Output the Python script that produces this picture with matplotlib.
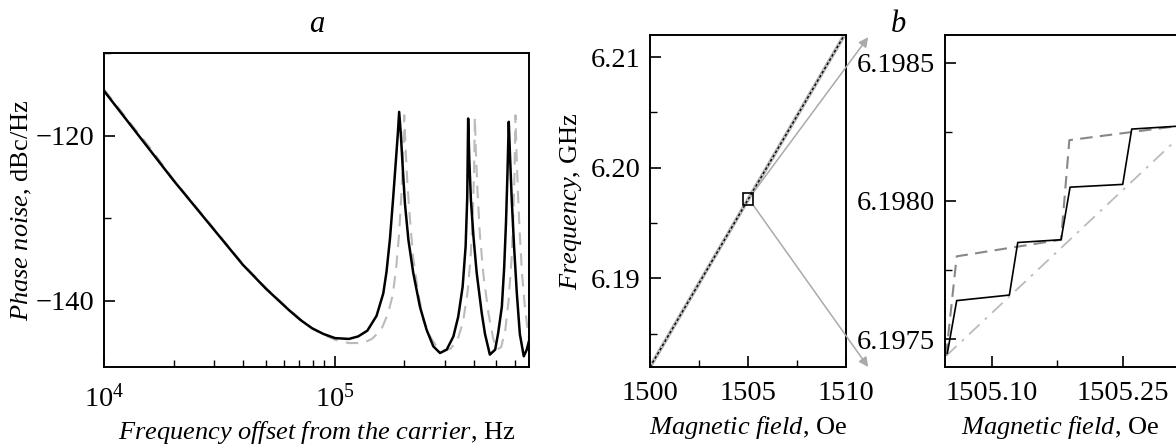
import matplotlib
matplotlib.use("Agg")
import matplotlib.pyplot as plt
from matplotlib.ticker import MultipleLocator, FormatStrFormatter, LogLocator, LogFormatterMathtext
from matplotlib.patches import Rectangle

plt.rcParams['font.family'] = ['Liberation Serif', 'DejaVu Serif']
plt.rcParams['mathtext.fontset'] = 'custom'
plt.rcParams['mathtext.rm'] = 'Liberation Serif'
plt.rcParams['mathtext.it'] = 'Liberation Serif:italic'
plt.rcParams['font.size'] = 19

# panel a: phase noise; frequency given as log10(offset, Hz)
lgf_solid = [4.0, 4.1, 4.2, 4.3, 4.4, 4.5, 4.6, 4.7, 4.8, 4.85,
             4.9, 4.95, 5.0, 5.06, 5.10, 5.14, 5.18, 5.209, 5.223, 5.238,
             5.252, 5.264, 5.272, 5.278, 5.285, 5.294, 5.303, 5.318, 5.339, 5.368,
             5.397, 5.426, 5.455, 5.484, 5.513, 5.534, 5.553, 5.566, 5.573, 5.577,
             5.582, 5.589, 5.600, 5.614, 5.636, 5.650, 5.671, 5.694, 5.707, 5.723,
             5.733, 5.741, 5.747, 5.753, 5.758, 5.766, 5.776, 5.788, 5.801, 5.818,
             5.831, 5.842]
pa_solid = [-114.6, -118.2, -121.8, -125.4, -128.8, -132.2, -135.6, -138.5, -141.1, -142.3,
            -143.3, -144.0, -144.5, -144.6, -144.3, -143.6, -141.8, -139.1, -136.5, -132.5,
            -127.5, -122.9, -119.8, -117.1, -119.7, -124.1, -128.2, -132.6, -136.6, -140.7,
            -143.5, -145.5, -146.3, -145.9, -144.3, -141.9, -138.3, -133.4, -127.5, -117.9,
            -122.9, -127.8, -132.2, -136.6, -141.5, -144.0, -146.5, -145.9, -143.9, -140.7,
            -136.0, -130.5, -124.9, -118.3, -122.1, -127.8, -133.4, -139.1, -144.0, -146.7,
            -145.9, -144.7]

lgf_dash = [4.0, 4.1, 4.2, 4.3, 4.4, 4.5, 4.6, 4.7, 4.8, 4.85,
            4.9, 4.95, 5.0, 5.06, 5.12, 5.16, 5.20, 5.23, 5.25, 5.265,
            5.278, 5.288, 5.295, 5.300, 5.305, 5.313, 5.325, 5.339, 5.361, 5.383,
            5.412, 5.44, 5.47, 5.50, 5.53, 5.555, 5.575, 5.588, 5.597, 5.603,
            5.606, 5.610, 5.617, 5.628, 5.643, 5.665, 5.685, 5.70, 5.72, 5.738,
            5.752, 5.765, 5.773, 5.778, 5.782, 5.786, 5.793, 5.80, 5.81, 5.822,
            5.835, 5.842]
pa_dash = [-114.4, -118.0, -121.5, -125.3, -128.7, -132.1, -135.5, -138.4, -141.0, -142.2,
           -143.3, -144.1, -144.7, -145.1, -145.1, -144.6, -143.5, -141.5, -139.3, -136.0,
           -131.8, -126.9, -122.5, -117.5, -121.0, -125.5, -130.2, -134.8, -139.1, -142.3,
           -144.3, -145.5, -146.0, -145.8, -144.8, -142.5, -138.8, -134.5, -129.5, -124.0,
           -117.7, -121.5, -126.5, -132.0, -136.8, -141.5, -144.5, -145.9, -145.6, -143.5,
           -140.0, -135.0, -129.5, -124.5, -117.5, -121.5, -127.0, -131.5, -136.5, -140.5,
           -143.5, -144.8]

# panel b: frequency vs magnetic field (overview)
hb = [1500.0, 1510.0]
fb_solid = [6.1820, 6.2122]
fb_dash = [6.1820, 6.2122]
fb_dashdot = [6.1820, 6.2122]

# panel b: zoomed region
hz_solid = [1505.0492, 1505.0599, 1505.1202, 1505.1298, 1505.1794, 1505.1897, 1505.2500, 1505.2603, 1505.3110]
fz_solid = [6.19745, 6.19764, 6.19766, 6.19785, 6.19786, 6.19805, 6.19806, 6.19826, 6.19827]
hz_dash = [1505.0477, 1505.0599, 1505.1794, 1505.1889, 1505.3110]
fz_dash = [6.19744, 6.19780, 6.19786, 6.19822, 6.19827]
hz_dashdot = [1505.0477, 1505.3110]
fz_dashdot = [6.19744, 6.19822]

W, H = 1176, 446
fig = plt.figure(figsize=(W / 100, H / 100), dpi=100)

ax_a = fig.add_axes([104.3 / W, 1 - 367 / H, 425 / W, 313.7 / H])
ax_b1 = fig.add_axes([650 / W, 1 - 367 / H, 195.7 / W, 332 / H])
ax_b2 = fig.add_axes([945 / W, 1 - 367 / H, 231 / W, 332 / H])

for ax in (ax_a, ax_b1, ax_b2):
    for s in ax.spines.values():
        s.set_linewidth(1.4)
    ax.tick_params(which='major', direction='in', length=8, width=1.2, top=False, right=False,
                   pad=7, labelsize=20.5)
    ax.tick_params(which='minor', direction='in', length=5, width=1.0, top=False, right=False)
ax_a.tick_params(axis='x', which='major', pad=12)
ax_b1.tick_params(axis='x', which='major', pad=10)
ax_b2.tick_params(axis='x', which='major', pad=10)

# panel a
ax_a.plot([10 ** v for v in lgf_dash], pa_dash, color='#bbbbbb', lw=1.5, dashes=(6, 4))
ax_a.plot([10 ** v for v in lgf_solid], pa_solid, color='black', lw=1.8)
ax_a.set_xscale('log')
ax_a.set_xlim(1e4, 10 ** 5.842)
ax_a.set_ylim(-148, -110)
ax_a.xaxis.set_major_locator(LogLocator(base=10))
ax_a.xaxis.set_major_formatter(LogFormatterMathtext())
ax_a.xaxis.set_minor_locator(LogLocator(base=10, subs=range(2, 10)))
ax_a.yaxis.set_major_locator(MultipleLocator(20))
ax_a.yaxis.set_minor_locator(MultipleLocator(10))
ax_a.set_xlabel(r'$\it{Frequency\ offset\ from\ the\ carrier}$, Hz', labelpad=5)
ax_a.set_ylabel(r'$\it{Phase\ noise}$, dBc/Hz')
ax_a.yaxis.set_label_coords(-0.165, 0.5)

# panel b overview
ax_b1.plot(hb, fb_solid, color='#aaaaaa', lw=2.6)
ax_b1.plot(hb, fb_dashdot, color='#cccccc', lw=1.2)
ax_b1.plot(hb, fb_dash, color='black', lw=1.0, dashes=(2, 1.5))
ax_b1.set_xlim(1500, 1510)
ax_b1.set_ylim(6.1820, 6.2120)
ax_b1.xaxis.set_major_locator(MultipleLocator(5))
ax_b1.xaxis.set_minor_locator(MultipleLocator(2.5))
ax_b1.yaxis.set_major_locator(MultipleLocator(0.01))
ax_b1.yaxis.set_minor_locator(MultipleLocator(0.005))
ax_b1.yaxis.set_major_formatter(FormatStrFormatter('%.2f'))
ax_b1.set_xlabel(r'$\it{Magnetic\ field}$, Oe', labelpad=6)
ax_b1.set_ylabel(r'$\it{Frequency}$, GHz')
ax_b1.yaxis.set_label_coords(-0.337, 0.5)
ax_b1.add_patch(Rectangle((1504.75, 6.19666), 0.51, 0.00106, fill=False, ec='black', lw=1.2, zorder=5))
for y0, y1 in ((6.19772, 6.2118), (6.19666, 6.1820)):
    ax_b1.annotate('', xy=(1511.15, y1), xytext=(1505.26, y0), annotation_clip=False,
                   arrowprops=dict(arrowstyle='-|>', color='#aaaaaa', lw=1.1,
                                   mutation_scale=14, shrinkA=0, shrinkB=0))

# panel b zoom
ax_b2.plot(hz_dashdot, fz_dashdot, color='#bbbbbb', lw=1.3, dashes=(8, 4, 1.5, 4))
ax_b2.plot(hz_dash, fz_dash, color='#888888', lw=1.5, dashes=(6, 3.5))
ax_b2.plot(hz_solid, fz_solid, color='black', lw=1.2)
ax_b2.set_xlim(1505.0465, 1505.311)
ax_b2.set_ylim(6.1974, 6.19860)
ax_b2.spines['right'].set_visible(False)
ax_b2.xaxis.set_major_locator(MultipleLocator(0.15))
ax_b2.xaxis.set_minor_locator(MultipleLocator(0.075))
ax_b2.xaxis.set_major_formatter(FormatStrFormatter('%.2f'))
ax_b2.yaxis.set_major_locator(MultipleLocator(0.0005))
ax_b2.yaxis.set_minor_locator(MultipleLocator(0.00025))
ax_b2.yaxis.set_major_formatter(FormatStrFormatter('%.4f'))
ax_b2.set_xlabel(r'$\it{Magnetic\ field}$, Oe', labelpad=6)

fig.text(317 / W, 1 - 25 / H, r'$\it{a}$', ha='center', va='center', fontsize=22)
fig.text(898 / W, 1 - 25 / H, r'$\it{b}$', ha='center', va='center', fontsize=22)

fig.savefig('out.png', dpi=100)
